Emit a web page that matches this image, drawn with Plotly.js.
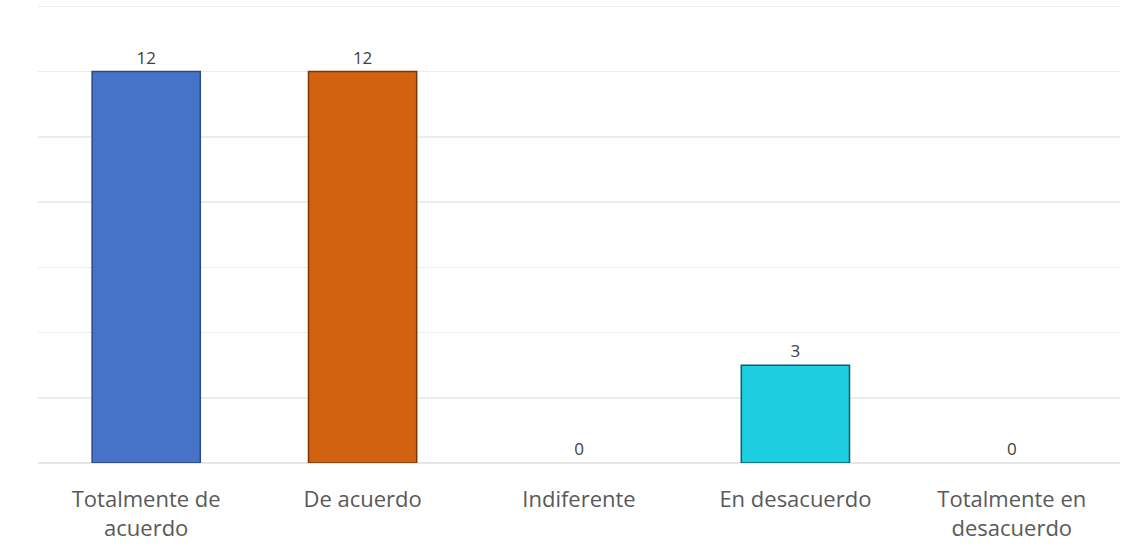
<!DOCTYPE html>
<html>
<head>
<meta charset="utf-8">
<script src="https://cdn.plot.ly/plotly-3.0.1.min.js"></script>
<style>html,body{margin:0;padding:0;background:#fff;}#chart{width:1129px;height:558px;}</style>
</head>
<body>
<div id="chart"></div>
<script>
const categories = ["Totalmente de acuerdo", "De acuerdo", "Indiferente", "En desacuerdo", "Totalmente en desacuerdo"];
const tickLabels = ["Totalmente de<br>acuerdo", "De acuerdo", "Indiferente", "En desacuerdo", "Totalmente en<br>desacuerdo"];
const values = [12, 12, 0, 3, 0];
const barColors = ["#4673C8", "#D2620F", "#A5A5A5", "#1DCDE0", "#FFC000"];
const borderColors = ["#2A4A86", "#7A3808", "#666666", "#0E5E68", "#8a6a00"];
const borderWidths = [1.5, 1.5, 0, 1.5, 0];

const trace = {
  type: "bar",
  x: categories,
  y: values,
  text: values.map(String),
  textposition: "outside",
  cliponaxis: false,
  textfont: {family: "Open Sans, sans-serif", size: 17, color: "#404040"},
  marker: {color: barColors, line: {color: borderColors, width: borderWidths}},
  hoverinfo: "x+y"
};

const layout = {
  width: 1129,
  height: 558,
  margin: {l: 38, r: 9, t: 3, b: 95},
  paper_bgcolor: "#ffffff",
  plot_bgcolor: "#ffffff",
  bargap: 0.5,
  showlegend: false,
  font: {family: "Open Sans, sans-serif", color: "#595959"},
  xaxis: {
    type: "category",
    tickmode: "array",
    tickvals: categories,
    ticktext: tickLabels,
    ticks: "",
    showline: false,
    showgrid: false,
    ticklabelstandoff: 21,
    tickfont: {family: "Open Sans, sans-serif", size: 22, color: "#595959"}
  },
  yaxis: {
    range: [0, 14.1],
    tickmode: "linear",
    tick0: 0,
    dtick: 2,
    showticklabels: false,
    ticks: "",
    showgrid: true,
    gridcolor: "#ececec",
    gridwidth: 1.5,
    zeroline: true,
    zerolinecolor: "#e6e6e6",
    zerolinewidth: 1.5,
    showline: false
  }
};

Plotly.newPlot("chart", [trace], layout, {displayModeBar: false, staticPlot: true});
</script>
</body>
</html>
